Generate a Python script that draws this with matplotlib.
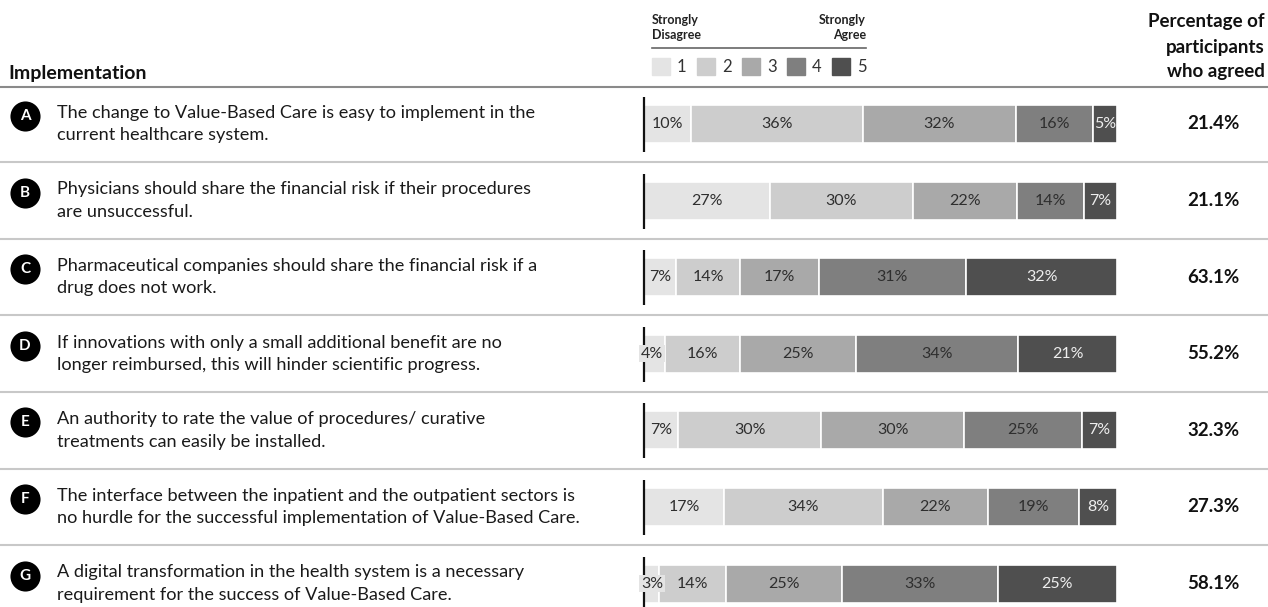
import matplotlib
matplotlib.use("Agg")
import matplotlib.pyplot as plt
from matplotlib.patches import Rectangle
import numpy as np

plt.rcParams['font.family'] = ['Lato', 'DejaVu Sans']

letters = ["A", "B", "C", "D", "E", "F", "G"]
questions = [
    "The change to Value-Based Care is easy to implement in the\ncurrent healthcare system.",
    "Physicians should share the financial risk if their procedures\nare unsuccessful.",
    "Pharmaceutical companies should share the financial risk if a\ndrug does not work.",
    "If innovations with only a small additional benefit are no\nlonger reimbursed, this will hinder scientific progress.",
    "An authority to rate the value of procedures/ curative\ntreatments can easily be installed.",
    "The interface between the inpatient and the outpatient sectors is\nno hurdle for the successful implementation of Value-Based Care.",
    "A digital transformation in the health system is a necessary\nrequirement for the success of Value-Based Care.",
]
# shares for answers 1..5 (percent)
s1 = [10.0, 26.7, 6.8, 4.4, 7.2, 16.9, 3.2]
s2 = [36.2, 30.1, 13.5, 15.8, 30.2, 33.6, 14.2]
s3 = [32.4, 22.1, 16.6, 24.6, 30.2, 22.2, 24.5]
s4 = [16.3, 14.1, 31.2, 34.3, 24.9, 19.3, 32.9]
s5 = [5.1, 7.0, 31.9, 20.9, 7.4, 8.0, 25.2]
seg_labels = [
    ["10%", "36%", "32%", "16%", "5%"],
    ["27%", "30%", "22%", "14%", "7%"],
    ["7%", "14%", "17%", "31%", "32%"],
    ["4%", "16%", "25%", "34%", "21%"],
    ["7%", "30%", "30%", "25%", "7%"],
    ["17%", "34%", "22%", "19%", "8%"],
    ["3%", "14%", "25%", "33%", "25%"],
]
agreed = ["21.4%", "21.1%", "63.1%", "55.2%", "32.3%", "27.3%", "58.1%"]
scale_labels = ["1", "2", "3", "4", "5"]

colors = ["#e4e4e4", "#cdcdcd", "#a9a9a9", "#7f7f7f", "#4f4f4f"]
txt_colors = ["#2e2e2e", "#2e2e2e", "#2e2e2e", "#2e2e2e", "#eeeeee"]

W, H = 1268, 607
fig = plt.figure(figsize=(W / 100, H / 100), dpi=100)

row0 = 124.0   # px of first row centre
step = 76.6    # px between rows

def py(px):
    return (px - row0) / step

# background axes (full figure): pixel x, row-based y
axb = fig.add_axes([0, 0, 1, 1])
axb.set_xlim(0, W)
axb.set_ylim(py(H), py(0))
axb.axis("off")

# bars axes
bx0, bx1 = 644, 1117
ax = fig.add_axes([bx0 / W, 0, (bx1 - bx0) / W, 1])
ax.set_xlim(0, 100)
ax.set_ylim(py(H), py(0))
ax.axis("off")

n = len(letters)
y = np.arange(n)
data = np.array([s1, s2, s3, s4, s5])
data = data / data.sum(axis=0) * 100
left = np.zeros(n)
for k in range(5):
    ax.barh(y, data[k], left=left, height=38 / step, color=colors[k],
            edgecolor="white", linewidth=1.2, zorder=2)
    for i in range(n):
        cx = left[i] + data[k][i] / 2
        kw = {}
        if data[k][i] < 5 and k == 0:
            cx = 1.7
            kw = dict(bbox=dict(boxstyle="square,pad=0.1", fc=colors[0], ec="none"))
        ax.text(cx, i, seg_labels[i][k], ha="center", va="center",
                fontsize=11.5, color=txt_colors[k], zorder=4, **kw)
    left += data[k]

# vertical axis line per row
for i in range(n):
    ax.plot([0, 0], [i - 27 / step, i + 28 / step], color="#111111", lw=1.6,
            zorder=3, clip_on=False, solid_capstyle="butt")

# separators
for i in range(n - 1):
    axb.plot([0, W], [i + 0.5, i + 0.5], color="#c8c8c8", lw=1.5)
# header line
axb.plot([0, W], [py(87), py(87)], color="#8a8a8a", lw=1.5)

for i in range(n):
    axb.scatter([25], [i - 8 / step], s=470, color="black", zorder=3, linewidths=0)
    axb.text(25, i - 8 / step, letters[i], ha="center", va="center", fontsize=11,
             fontweight="bold", color="white", zorder=4)
    axb.text(57, i, questions[i], ha="left", va="center", fontsize=13.1,
             color="#1a1a1a", linespacing=1.5)
    axb.text(1213, i, agreed[i], ha="center", va="center", fontsize=13.5,
             fontweight="bold", color="#111111")

# header texts
axb.text(8, py(73), "Implementation", ha="left", va="center", fontsize=14,
         fontweight="bold", color="#111111")
for j, line in enumerate(["Percentage of", "participants", "who agreed"]):
    axb.text(1265, py(22 + 25 * j), line, ha="right", va="center", fontsize=13.5,
             fontweight="bold", color="#111111")

# legend
for txt, xx, ha in [("Strongly", 652, "left"), ("Strongly", 866, "right")]:
    axb.text(xx, py(20), txt, ha=ha, va="center", fontsize=9,
             fontweight="bold", color="#222222")
axb.text(652, py(35), "Disagree", ha="left", va="center", fontsize=9,
         fontweight="bold", color="#222222")
axb.text(866, py(35), "Agree", ha="right", va="center", fontsize=9,
         fontweight="bold", color="#222222")
axb.plot([652, 866], [py(48), py(48)], color="#666666", lw=1.2)
lx = [652, 697, 742, 787, 832]
for k in range(5):
    axb.add_patch(Rectangle((lx[k], py(58)), 18, 17 / step, color=colors[k]))
    axb.text(lx[k] + 25, py(67), scale_labels[k], ha="left", va="center",
             fontsize=12, color="#333333")

fig.savefig("out.png", dpi=100)
